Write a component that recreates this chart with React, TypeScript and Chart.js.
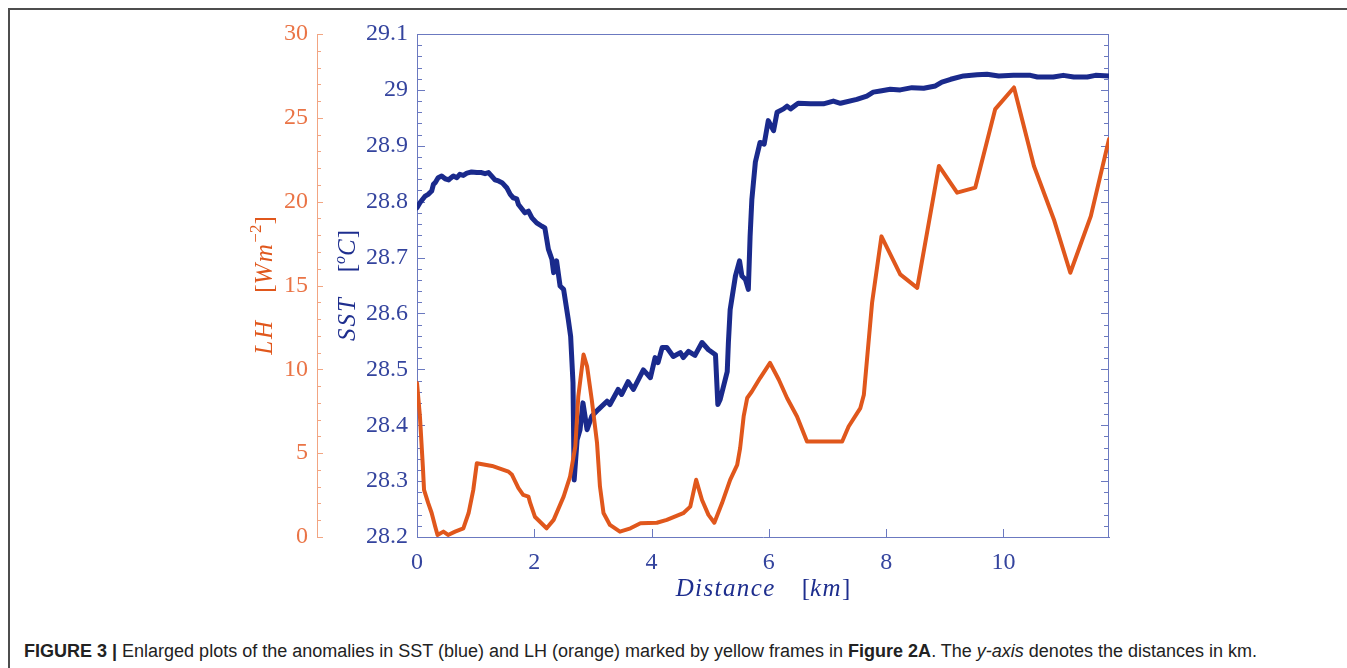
import { useEffect, useRef } from "react";
import { Chart, registerables } from "chart.js";

Chart.register(...registerables);

// Sea surface temperature along the transect: distance [km] and SST [°C]
const sstDistance = [
  0.0, 0.05, 0.14, 0.19, 0.25, 0.28, 0.31, 0.36, 0.42, 0.48, 0.54, 0.56, 0.62, 0.68, 0.73, 0.79,
  0.85, 0.93, 1.02, 1.1, 1.16, 1.22, 1.27, 1.33, 1.39, 1.45, 1.53, 1.59, 1.64, 1.7, 1.73, 1.79,
  1.84, 1.9, 1.96, 2.04, 2.13, 2.18, 2.24, 2.3, 2.33, 2.38, 2.44, 2.5, 2.58, 2.62, 2.66, 2.68,
  2.73, 2.78, 2.83, 2.9, 2.98, 3.09, 3.24, 3.29, 3.43, 3.49, 3.6, 3.69, 3.86, 3.98, 4.06, 4.11,
  4.18, 4.26, 4.37, 4.49, 4.54, 4.63, 4.74, 4.86, 4.97, 5.09, 5.13, 5.17, 5.29, 5.31, 5.34, 5.43,
  5.5, 5.54, 5.6, 5.65, 5.68, 5.71, 5.77, 5.85, 5.92, 5.99, 6.08, 6.14, 6.25, 6.31, 6.37, 6.5,
  6.71, 6.93, 7.1, 7.22, 7.5, 7.67, 7.78, 7.9, 8.07, 8.24, 8.44, 8.64, 8.84, 8.95, 9.1, 9.32,
  9.55, 9.72, 9.92, 10.17, 10.46, 10.58, 10.85, 11.02, 11.2, 11.43, 11.57, 11.8,
];
const sstValues = [
  28.789, 28.798, 28.81, 28.813, 28.819, 28.831, 28.834, 28.843, 28.846, 28.841, 28.839, 28.841,
  28.846, 28.843, 28.849, 28.847, 28.851, 28.853, 28.852, 28.852, 28.85, 28.852, 28.846, 28.839,
  28.837, 28.834, 28.825, 28.813, 28.807, 28.805, 28.795, 28.787, 28.78, 28.783, 28.771, 28.762,
  28.756, 28.753, 28.715, 28.697, 28.673, 28.694, 28.649, 28.643, 28.589, 28.559, 28.476, 28.302,
  28.374, 28.392, 28.44, 28.392, 28.416, 28.428, 28.443, 28.437, 28.464, 28.455, 28.478, 28.464,
  28.499, 28.485, 28.521, 28.512, 28.539, 28.539, 28.523, 28.53, 28.521, 28.532, 28.525, 28.548,
  28.535, 28.526, 28.437, 28.446, 28.496, 28.548, 28.607, 28.667, 28.694, 28.667, 28.661, 28.643,
  28.738, 28.804, 28.871, 28.906, 28.903, 28.945, 28.927, 28.96, 28.966, 28.971, 28.966, 28.976,
  28.975, 28.975, 28.98, 28.976, 28.983, 28.989, 28.996, 28.998, 29.001, 29.0, 29.004, 29.003,
  29.007, 29.014, 29.019, 29.025, 29.027, 29.028, 29.025, 29.026, 29.026, 29.023, 29.023, 29.026,
  29.023, 29.023, 29.026, 29.025,
];

// Latent heat flux along the same transect: distance [km] and LH [W m^-2]
const lhDistance = [
  0.0, 0.05, 0.1, 0.12, 0.19, 0.25, 0.31, 0.35, 0.45, 0.53, 0.65, 0.79, 0.88, 0.96, 1.02, 1.28,
  1.56, 1.62, 1.73, 1.81, 1.9, 1.93, 2.01, 2.21, 2.33, 2.5, 2.61, 2.7, 2.75, 2.84, 2.9, 2.98,
  3.07, 3.12, 3.18, 3.29, 3.46, 3.64, 3.81, 4.09, 4.26, 4.54, 4.66, 4.76, 4.86, 4.97, 5.07, 5.2,
  5.34, 5.46, 5.51, 5.57, 5.63, 5.71, 5.85, 6.02, 6.17, 6.31, 6.48, 6.65, 6.93, 7.25, 7.36, 7.56,
  7.62, 7.76, 7.92, 8.24, 8.53, 8.9, 9.21, 9.52, 9.86, 10.18, 10.52, 10.86, 11.14, 11.49, 11.8,
];
const lhValues = [
  9.19, 7.19, 4.2, 2.81, 2.03, 1.43, 0.62, 0.12, 0.32, 0.12, 0.32, 0.52, 1.43, 2.81, 4.4, 4.24,
  3.9, 3.71, 2.91, 2.51, 2.41, 2.03, 1.21, 0.52, 1.02, 2.41, 3.6, 5.4, 8.38, 10.88, 10.18, 8.19,
  5.6, 3.01, 1.43, 0.72, 0.32, 0.52, 0.82, 0.85, 1.02, 1.42, 1.81, 3.41, 2.21, 1.32, 0.85, 2.01,
  3.41, 4.3, 5.3, 7.19, 8.29, 8.68, 9.48, 10.38, 9.38, 8.29, 7.19, 5.7, 5.7, 5.7, 6.59, 7.69,
  8.49, 13.97, 17.93, 15.66, 14.86, 22.13, 20.54, 20.84, 25.52, 26.81, 22.13, 18.94, 15.76, 19.14,
  23.73,
];

// Axis ranges and tick labels
const distanceRange = [0, 11.8];
const distanceTicks = [0, 2, 4, 6, 8, 10];
const sstRange = [28.2, 29.1];
const sstTicks = [28.2, 28.3, 28.4, 28.5, 28.6, 28.7, 28.8, 28.9, 29.0, 29.1];
const sstTickLabels = ["28.2", "28.3", "28.4", "28.5", "28.6", "28.7", "28.8", "28.9", "29", "29.1"];
const sstMinorStep = 0.02;
const lhRange = [0, 30];
const lhTicks = [0, 5, 10, 15, 20, 25, 30];
const lhMinorStep = 1;

const SERIF = "'Liberation Serif', 'DejaVu Serif', serif";
const SANS = "'Liberation Sans', Arial, sans-serif";
const BLUE_LINE = "#1a2a8c";
const BLUE_TEXT = "#34449e";
const BLUE_TITLE = "#1e2e8e";
const BLUE_AXIS = "#6b79c0";
const ORANGE_LINE = "#e0571c";
const ORANGE_TEXT = "#ea7446";
const ORANGE_AXIS = "#f2a582";
const TICK_SIZE = 24;
const TITLE_SIZE = 25;

type Run = { text?: string; gap?: number; italic?: boolean; size?: number; rise?: number; spacing?: number };

// Draws a row of mixed-style text pieces centred on (cx, baseline)
function drawRuns(ctx: CanvasRenderingContext2D, runs: Run[], cx: number, baseline: number, vertical: boolean, color: string) {
  const fontOf = (r: Run) => `${r.italic ? "italic " : ""}${r.size ?? TITLE_SIZE}px ${SERIF}`;
  const widths = runs.map((r) => {
    if (r.gap) return r.gap;
    ctx.font = fontOf(r);
    (ctx as any).letterSpacing = `${r.spacing ?? 0}px`;
    return ctx.measureText(r.text || "").width;
  });
  const total = widths.reduce((s, w) => s + w, 0);
  ctx.save();
  if (vertical) {
    ctx.translate(baseline, cx);
    ctx.rotate(-Math.PI / 2);
  } else {
    ctx.translate(cx, baseline);
  }
  ctx.fillStyle = color;
  ctx.textAlign = "left";
  ctx.textBaseline = "alphabetic";
  let x = -total / 2;
  runs.forEach((r, i) => {
    if (r.text) {
      ctx.font = fontOf(r);
      (ctx as any).letterSpacing = `${r.spacing ?? 0}px`;
      ctx.fillText(r.text, x, -(r.rise ?? 0));
    }
    x += widths[i];
  });
  (ctx as any).letterSpacing = "0px";
  ctx.restore();
}

// Inward tick marks, the plot frame and the axis titles
const decorations = {
  id: "decorations",
  beforeDatasetsDraw(chart: any) {
    const { ctx, chartArea: a, scales } = chart;
    const xs = scales.x;
    const ys = scales.ySST;
    const yl = scales.yLH;
    ctx.save();
    ctx.lineWidth = 1;

    // frame: top and right edges
    ctx.strokeStyle = BLUE_AXIS;
    ctx.beginPath();
    ctx.moveTo(a.left, Math.round(a.top) + 0.5);
    ctx.lineTo(a.right, Math.round(a.top) + 0.5);
    ctx.moveTo(Math.round(a.right) - 0.5, a.top);
    ctx.lineTo(Math.round(a.right) - 0.5, a.bottom);
    ctx.stroke();

    // SST ticks on both vertical edges
    const nSst = Math.round((sstRange[1] - sstRange[0]) / sstMinorStep);
    ctx.beginPath();
    for (let i = 0; i <= nSst; i++) {
      const py = Math.round(ys.getPixelForValue(sstRange[0] + i * sstMinorStep)) + 0.5;
      const len = i % 5 === 0 ? 8 : 5;
      ctx.moveTo(a.left, py);
      ctx.lineTo(a.left + len, py);
      ctx.moveTo(a.right, py);
      ctx.lineTo(a.right - len, py);
    }
    // distance ticks on the bottom edge
    distanceTicks.forEach((v) => {
      const px = Math.round(xs.getPixelForValue(v)) + 0.5;
      ctx.moveTo(px, a.bottom);
      ctx.lineTo(px, a.bottom - 8);
    });
    ctx.stroke();

    // LH ticks on the outer axis
    const lx = yl.right;
    const nLh = Math.round((lhRange[1] - lhRange[0]) / lhMinorStep);
    ctx.strokeStyle = ORANGE_AXIS;
    ctx.beginPath();
    for (let i = 0; i <= nLh; i++) {
      const py = Math.round(yl.getPixelForValue(lhRange[0] + i * lhMinorStep)) + 0.5;
      const len = i % 5 === 0 ? 6 : 4;
      ctx.moveTo(lx, py);
      ctx.lineTo(lx + len, py);
    }
    ctx.stroke();
    ctx.restore();

    const midY = (a.top + a.bottom) / 2;
    drawRuns(
      ctx,
      [
        { text: "LH", italic: true, spacing: 2 },
        { gap: 26 },
        { text: "[" },
        { text: "Wm", italic: true, spacing: 1.5 },
        { text: "\u22122", size: 17, rise: 11 },
        { text: "]" },
      ],
      midY,
      yl.left + 22,
      true,
      ORANGE_LINE
    );
    drawRuns(
      ctx,
      [
        { text: "SST", italic: true, spacing: 2 },
        { gap: 24 },
        { text: "[" },
        { text: "o", italic: true, size: 16, rise: 10 },
        { text: "C", italic: true, spacing: 1 },
        { text: "]" },
      ],
      midY,
      ys.left + 38,
      true,
      BLUE_TITLE
    );
    drawRuns(
      ctx,
      [
        { text: "Distance", italic: true, spacing: 1.4 },
        { gap: 26 },
        { text: "[" },
        { text: "km", italic: true, spacing: 1.4 },
        { text: "]" },
      ],
      (a.left + a.right) / 2,
      a.bottom + 59,
      false,
      BLUE_TITLE
    );
  },
};

function SstLhChart() {
  const canvasRef = useRef<HTMLCanvasElement | null>(null);

  useEffect(() => {
    const canvas = canvasRef.current;
    if (!canvas) return;
    const chart = new Chart(canvas, {
      type: "line",
      data: {
        datasets: [
          {
            label: "SST",
            data: sstDistance.map((d, i) => ({ x: d, y: sstValues[i] })),
            yAxisID: "ySST",
            borderColor: BLUE_LINE,
            borderWidth: 5,
            pointRadius: 0,
            tension: 0,
            borderJoinStyle: "round",
            borderCapStyle: "round",
            order: 1,
          },
          {
            label: "LH",
            data: lhDistance.map((d, i) => ({ x: d, y: lhValues[i] })),
            yAxisID: "yLH",
            borderColor: ORANGE_LINE,
            borderWidth: 4,
            pointRadius: 0,
            tension: 0,
            borderJoinStyle: "round",
            borderCapStyle: "round",
            order: 0,
          },
        ],
      },
      options: {
        animation: false,
        responsive: false,
        devicePixelRatio: 1,
        layout: { padding: { left: 250, right: 238, top: 34, bottom: 0 } },
        plugins: { legend: { display: false }, tooltip: { enabled: false } },
        scales: {
          x: {
            type: "linear",
            position: "bottom",
            min: distanceRange[0],
            max: distanceRange[1],
            afterBuildTicks: (s: any) => {
              s.ticks = distanceTicks.map((v) => ({ value: v }));
            },
            afterFit: (s: any) => {
              s.height = 83;
            },
            grid: { display: false, drawTicks: false },
            border: { display: true, color: BLUE_AXIS, width: 1 },
            ticks: {
              color: BLUE_TEXT,
              font: { family: SERIF, size: TICK_SIZE },
              padding: 11,
              maxRotation: 0,
              autoSkip: false,
            },
          },
          ySST: {
            type: "linear",
            position: "left",
            weight: 0,
            min: sstRange[0],
            max: sstRange[1],
            afterBuildTicks: (s: any) => {
              s.ticks = sstTicks.map((v) => ({ value: v }));
            },
            afterFit: (s: any) => {
              s.width = 100;
            },
            grid: { display: false, drawTicks: false },
            border: { display: true, color: BLUE_AXIS, width: 1 },
            ticks: {
              color: BLUE_TEXT,
              font: { family: SERIF, size: TICK_SIZE },
              padding: 9,
              autoSkip: false,
              callback: (v: any) => {
                const i = sstTicks.findIndex((t) => Math.abs(t - Number(v)) < 1e-6);
                return i >= 0 ? sstTickLabels[i] : "";
              },
            },
          },
          yLH: {
            type: "linear",
            position: "left",
            weight: 1,
            min: lhRange[0],
            max: lhRange[1],
            afterBuildTicks: (s: any) => {
              s.ticks = lhTicks.map((v) => ({ value: v }));
            },
            afterFit: (s: any) => {
              s.width = 67;
            },
            grid: { display: false, drawTicks: false },
            border: { display: true, color: ORANGE_AXIS, width: 1 },
            ticks: {
              color: ORANGE_TEXT,
              font: { family: SERIF, size: TICK_SIZE },
              padding: 9,
              autoSkip: false,
              callback: (v: any) => String(v),
            },
          },
        },
      },
      plugins: [decorations],
    } as any);
    return () => chart.destroy();
  }, []);

  return (
    <canvas
      ref={canvasRef}
      width={1347}
      height={620}
      style={{ position: "absolute", left: 0, top: 0, width: 1347, height: 620 }}
    />
  );
}

export default function App() {
  return (
    <div style={{ position: "absolute", left: 0, top: 0, width: 1347, height: 668, overflow: "hidden", background: "#fff" }}>
      <div
        style={{
          position: "absolute",
          left: 8,
          top: 8,
          right: 0,
          bottom: 0,
          borderTop: "2px solid #4d4d4d",
          borderLeft: "2px solid #4d4d4d",
        }}
      />
      <SstLhChart />
      <div
        style={{
          position: "absolute",
          left: 24,
          top: 640,
          fontFamily: SANS,
          fontSize: 18,
          lineHeight: "22px",
          color: "#222",
          whiteSpace: "nowrap",
        }}
      >
        <b>FIGURE 3 |</b> Enlarged plots of the anomalies in SST (blue) and LH (orange) marked by yellow frames in{" "}
        <b>Figure 2A</b>. The <i>y-axis</i> denotes the distances in km.
      </div>
    </div>
  );
}
